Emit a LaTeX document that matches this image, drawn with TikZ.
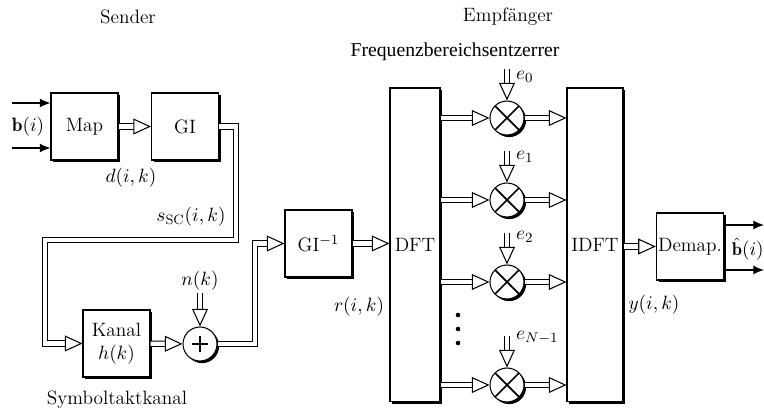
\documentclass[tikz,border=0pt]{standalone}
\usepackage{amsmath}
\usepackage{fontspec}
\newfontfamily\timesfont{Liberation Serif}
\usetikzlibrary{arrows.meta,positioning,shadows}
\tikzset{
blk/.style={draw, fill=white, line width=0.6pt, minimum width=1.34cm, minimum height=1.34cm, align=center, inner sep=1pt,
  drop shadow={shadow xshift=1.4pt, shadow yshift=-1.4pt, fill=black, opacity=1}},
tallblk/.style={blk, minimum width=1cm, minimum height=6.28cm},
mul/.style={draw, fill=white, circle, line width=0.6pt, minimum size=0.68cm, inner sep=0pt,
  drop shadow={shadow xshift=1.2pt, shadow yshift=-1.2pt, fill=black, opacity=1},
  path picture={\draw[line width=1pt] (path picture bounding box.north west) -- (path picture bounding box.south east)
    (path picture bounding box.north east) -- (path picture bounding box.south west);}},
sum/.style={draw, fill=white, circle, line width=0.6pt, minimum size=0.68cm, inner sep=0pt,
  drop shadow={shadow xshift=1.2pt, shadow yshift=-1.2pt, fill=black, opacity=1}},
harr/.style={double, double distance=2.4pt, line width=0.6pt, -{Triangle[open, length=10pt, width=9pt]}},
barr/.style={line width=0.6pt, -{Latex[length=6pt, width=5pt]}},
lbl/.style={inner sep=1pt}
}
\begin{document}
\begin{tikzpicture}[x=0.02cm, y=-0.02cm, font=\fontsize{11}{13}\selectfont]
\useasboundingbox (0,0) rectangle (764,411);
% Sender
\node[lbl] (sender) at (128,17) {Sender};
\node[blk] (map) at (84.5,126.5) {Map};
\node[blk] (gi) at (185,126.5) {GI};
\coordinate (in1) at (12,103);
\coordinate (in2) at (12,148);
\draw[barr] (in1) -- (map.west |- in1);
\draw[barr] (in2) -- (map.west |- in2);
\node[lbl] (bi) at (28,127) {$\mathbf{b}(i)$};
\draw[harr] (map) -- (gi);
\node[lbl] (dik) at (131,178) {$d(i,k)$};
% Kanal
\node[blk] (kanal) at (116.5,343.5) {Kanal\\$h(k)$};
\node[sum] (add) at (200,344) {};
\draw[line width=1.3pt] (add.center) ++(-8,0) -- ++(16,0) (add.center) ++(0,-8) -- ++(0,16);
\coordinate (t1) at (236,240);
\coordinate (t2) at (45,240);
\draw[harr] (gi.east) -| (t1) -- (t2) |- (kanal.west);
\node[lbl] (ssc) at (191,217) {$s_{\mathrm{SC}}(i,k)$};
\draw[harr] (kanal) -- (add);
\node[lbl] (nk) at (200,281) {$n(k)$};
\draw[harr] (nk.south) -- (add.north);
\node[lbl] (stk) at (117,400) {Symboltaktkanal};
% Empfaenger
\node[lbl] (empf) at (508,17) {Empfänger};
\node[lbl] (fbe) at (455,52) {\timesfont\fontsize{11.2}{13}\selectfont Frequenzbereichsentzerrer};
\node[blk] (gii) at (318.5,243.5) {GI$^{-1}$};
\coordinate (t3) at (255,243.5);
\draw[harr] (add.east) -| (t3) -- (gii.west);
\node[tallblk] (dft) at (415,245) {DFT};
\draw[harr] (gii.east) -- (dft.west |- gii.east);
\node[lbl] (rik) at (359,307) {$r(i,k)$};
\node[tallblk, minimum width=1.12cm] (idft) at (595,245) {IDFT};
\foreach \i/\y/\e/\ey in {0/118/e_0/77, 1/200/e_1/157, 2/282/e_2/237, 3/385/e_{N-1}/338} {
  \node[mul] (m\i) at (507,\y) {};
  \coordinate (ein\i) at (507,\y-49);
  \draw[harr] (ein\i) -- (m\i.north);
  \node[lbl, anchor=west] (el\i) at (514,\ey) {$\e$};
  \draw[harr] (dft.east |- m\i.west) -- (m\i.west);
  \draw[harr] (m\i.east) -- (idft.west |- m\i.east);
}
\foreach \d in {315,329,343}
  \fill (458,\d) circle (2.3);
\node[blk] (demap) at (690,246.5) {Demap.};
\draw[harr] (idft.east |- demap.west) -- (demap.west);
\node[lbl] (yik) at (654,305) {$y(i,k)$};
\coordinate (out1) at (764,225);
\coordinate (out2) at (764,270);
\draw[barr] (demap.east |- out1) -- (out1);
\draw[barr] (demap.east |- out2) -- (out2);
\node[inner sep=0pt, anchor=east, font=\fontsize{10.5}{12}\selectfont] (bhat) at (764,249) {$\hat{\mathbf{b}}(i)$};
\end{tikzpicture}
\end{document}
